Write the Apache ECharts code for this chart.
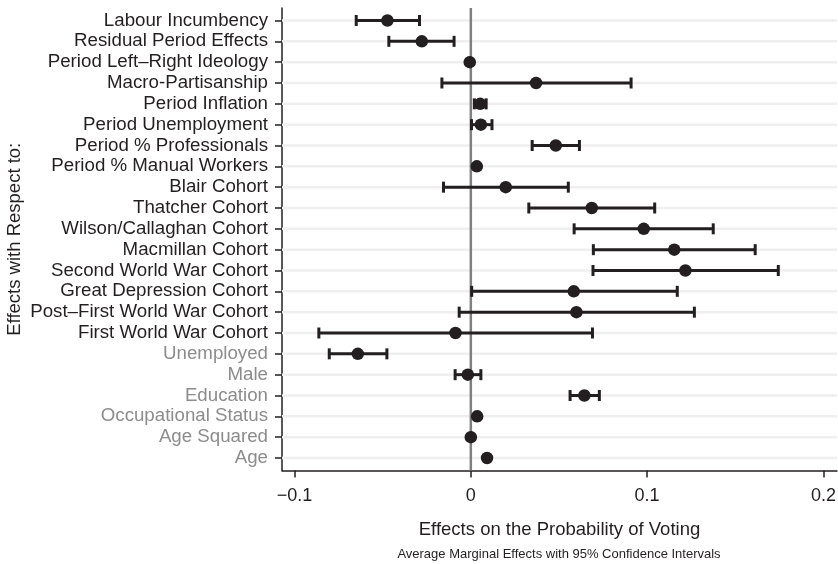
<!DOCTYPE html>
<html>
<head>
<meta charset="utf-8">
<title>Effects on the Probability of Voting</title>
<script src="https://cdn.jsdelivr.net/npm/echarts@6/dist/echarts.min.js"></script>
<style>
  html, body { margin: 0; padding: 0; background: #ffffff; }
  #chart { width: 838px; height: 564px; }
</style>
</head>
<body>
<div id="chart"></div>
<script>
// Rows, listed top to bottom
const categories = [
  'Labour Incumbency',
  'Residual Period Effects',
  'Period Left\u2013Right Ideology',
  'Macro-Partisanship',
  'Period Inflation',
  'Period Unemployment',
  'Period % Professionals',
  'Period % Manual Workers',
  'Blair Cohort',
  'Thatcher Cohort',
  'Wilson/Callaghan Cohort',
  'Macmillan Cohort',
  'Second World War Cohort',
  'Great Depression Cohort',
  'Post\u2013First World War Cohort',
  'First World War Cohort',
  'Unemployed',
  'Male',
  'Education',
  'Occupational Status',
  'Age Squared',
  'Age'
];

// Average marginal effects
const estimates = [
  -0.0473, -0.0278, -0.0006, 0.0370, 0.0053, 0.0057, 0.0482, 0.0034,
  0.0198, 0.0686, 0.0981, 0.1154, 0.1217, 0.0584, 0.0599, -0.0087,
  -0.0641, -0.0017, 0.0644, 0.0036, 0.0000, 0.0092
];

// 95% confidence interval bounds
const lowerCI = [
  -0.0650, -0.0465, -0.0010, -0.0164, 0.0020, 0.0004, 0.0348, 0.0029,
  -0.0155, 0.0329, 0.0586, 0.0695, 0.0693, 0.0005, -0.0066, -0.0862,
  -0.0803, -0.0089, 0.0563, 0.0026, -0.0002, 0.0088
];
const upperCI = [
  -0.0291, -0.0095, -0.0002, 0.0909, 0.0087, 0.0120, 0.0616, 0.0039,
  0.0553, 0.1043, 0.1375, 0.1613, 0.1744, 0.1171, 0.1268, 0.0690,
  -0.0476, 0.0057, 0.0729, 0.0046, 0.0002, 0.0096
];

// Individual-level controls shown with muted labels
const controlRows = ['Unemployed', 'Male', 'Education', 'Occupational Status', 'Age Squared', 'Age'];

const xTicks = [-0.1, 0, 0.1, 0.2];
const zeroReference = [0];

const FONT = '"Liberation Sans", Arial, Helvetica, sans-serif';
const INK = '#231f20';
const MUTED = '#8c8c8c';

const rowIndex = categories.map((_, i) => i);

const chart = echarts.init(document.getElementById('chart'), null, { renderer: 'canvas' });

const option = {
  backgroundColor: '#ffffff',
  animation: false,
  textStyle: { fontFamily: FONT },
  grid: {
    left: 282, right: 1, top: 8, bottom: 93.5,
    containLabel: false,
    outerBoundsMode: 'none'
  },
  xAxis: {
    type: 'value',
    min: -0.1071,
    max: 0.2077,
    axisLine: { show: true, onZero: false, lineStyle: { color: INK, width: 1.5 } },
    axisTick: { show: true, customValues: xTicks, length: 7, lineStyle: { color: INK, width: 1.5 } },
    axisLabel: {
      customValues: xTicks,
      margin: 17,
      fontSize: 18,
      color: INK,
      fontFamily: FONT,
      formatter: v => (v < 0 ? '\u2212' + String(Math.abs(v)) : String(v))
    },
    splitLine: { show: false },
    name: 'Effects on the Probability of Voting',
    nameLocation: 'middle',
    nameGap: 50,
    nameMoveOverlap: false,
    nameTextStyle: { fontSize: 18.5, color: INK, fontFamily: FONT }
  },
  yAxis: {
    type: 'value',
    inverse: true,
    min: -0.6,
    max: 21.6,
    axisLine: { show: true, onZero: false, lineStyle: { color: INK, width: 1.5 } },
    axisTick: { show: true, customValues: rowIndex, length: 7, lineStyle: { color: INK, width: 1.5 } },
    axisLabel: {
      customValues: rowIndex,
      margin: 14,
      fontSize: 18.7,
      fontFamily: FONT,
      formatter: v => {
        const name = categories[Math.round(v)];
        return controlRows.includes(name) ? '{m|' + name + '}' : '{d|' + name + '}';
      },
      rich: {
        d: { color: INK, fontSize: 18.7, fontFamily: FONT },
        m: { color: MUTED, fontSize: 18.7, fontFamily: FONT }
      }
    },
    splitLine: { show: false },
    name: 'Effects with Respect to:',
    nameLocation: 'middle',
    nameGap: 258,
    nameMoveOverlap: false,
    nameTextStyle: { fontSize: 18.5, color: INK, fontFamily: FONT }
  },
  graphic: [{
    type: 'text',
    x: 559,
    y: 554,
    style: {
      text: 'Average Marginal Effects with 95% Confidence Intervals',
      fontSize: 13,
      fontFamily: FONT,
      fill: INK,
      textAlign: 'center',
      textVerticalAlign: 'middle'
    }
  }],
  series: [
    {
      // light horizontal guide for every row
      type: 'custom',
      z: 1,
      silent: true,
      data: rowIndex.map(i => [0, i]),
      renderItem: (params, api) => {
        const cs = params.coordSys;
        const y = api.coord([0, api.value(1)])[1];
        return {
          type: 'line',
          shape: { x1: cs.x, y1: y, x2: cs.x + cs.width, y2: y },
          style: { stroke: '#efefef', lineWidth: 2.5 }
        };
      }
    },
    {
      // vertical reference line at zero effect
      type: 'custom',
      z: 2,
      silent: true,
      data: zeroReference.map(v => [v, 0]),
      renderItem: (params, api) => {
        const cs = params.coordSys;
        const x = api.coord([api.value(0), 0])[0];
        return {
          type: 'line',
          shape: { x1: x, y1: cs.y, x2: x, y2: cs.y + cs.height },
          style: { stroke: '#808080', lineWidth: 2.5 }
        };
      }
    },
    {
      // confidence interval bars with end caps
      type: 'custom',
      z: 3,
      silent: true,
      data: rowIndex.map(i => [lowerCI[i], upperCI[i], i]),
      renderItem: (params, api) => {
        const lo = api.coord([api.value(0), api.value(2)]);
        const hi = api.coord([api.value(1), api.value(2)]);
        const cap = 5.5;
        const style = { stroke: INK, lineWidth: 3, lineCap: 'butt' };
        return {
          type: 'group',
          children: [
            { type: 'line', shape: { x1: lo[0], y1: lo[1], x2: hi[0], y2: hi[1] }, style },
            { type: 'line', shape: { x1: lo[0], y1: lo[1] - cap, x2: lo[0], y2: lo[1] + cap }, style },
            { type: 'line', shape: { x1: hi[0], y1: hi[1] - cap, x2: hi[0], y2: hi[1] + cap }, style }
          ]
        };
      }
    },
    {
      type: 'scatter',
      z: 4,
      silent: true,
      symbol: 'circle',
      symbolSize: 12.5,
      itemStyle: { color: INK, opacity: 1 },
      data: rowIndex.map(i => [estimates[i], i])
    }
  ]
};

chart.setOption(option);
</script>
</body>
</html>
